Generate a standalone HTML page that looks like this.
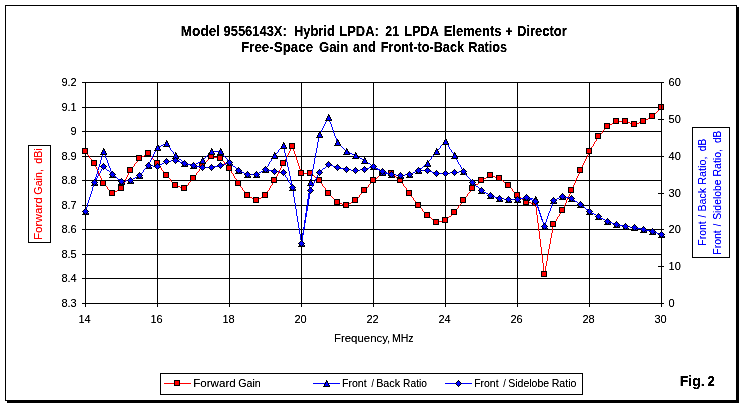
<!DOCTYPE html>
<html lang="en">
<head>
<meta charset="utf-8">
<title>Model 9556143X: Hybrid LPDA - Free-Space Gain and Front-to-Back Ratios</title>
<style>
html,body{margin:0;padding:0;background:#fff;}
body{width:744px;height:407px;overflow:hidden;}
svg{display:block;font-family:"Liberation Sans",Arial,sans-serif;}
text{white-space:pre;}
.t{font-size:14px;font-weight:bold;fill:#000;}
.s{font-size:11px;fill:#000;}
</style>
</head>
<body>
<svg width="744" height="407" viewBox="0 0 744 407">
<filter id="th" x="0" y="0" width="744" height="407" filterUnits="userSpaceOnUse" color-interpolation-filters="sRGB"><feComponentTransfer><feFuncA type="linear" slope="1.35" intercept="-0.06"/></feComponentTransfer></filter>
<filter id="tb" x="0" y="0" width="744" height="407" filterUnits="userSpaceOnUse" color-interpolation-filters="sRGB"><feComponentTransfer><feFuncA type="linear" slope="2.2" intercept="-0.4"/></feComponentTransfer></filter>
<rect x="0" y="0" width="744" height="407" fill="#fff"/>
<g shape-rendering="crispEdges">
<rect x="7" y="7" width="732" height="396" fill="#000"/>
<rect x="5" y="5" width="732" height="396" fill="#000"/>
<rect x="6" y="6" width="730" height="394" fill="#fff"/>
<path d="M82 82h580v1h-580zM82 107h580v1h-580zM82 131h580v1h-580zM82 156h580v1h-580zM82 180h580v1h-580zM82 205h580v1h-580zM82 229h580v1h-580zM82 254h580v1h-580zM82 278h580v1h-580zM82 303h580v1h-580zM85 82h1v225h-1zM157 82h1v225h-1zM229 82h1v225h-1zM301 82h1v225h-1zM373 82h1v225h-1zM445 82h1v225h-1zM517 82h1v225h-1zM589 82h1v225h-1zM661 82h1v225h-1z" fill="#000"/>
</g>
<g shape-rendering="crispEdges">
<path d="M650 117h2v1h-2zM648 118h2v1h-2zM646 119h2v1h-2zM644 120h2v1h-2zM616 121h11v1h-11zM642 121h2v1h-2zM614 122h2v1h-2zM627 122h3v1h-3zM639 122h3v1h-3zM612 123h2v1h-2zM630 123h3v1h-3zM636 123h3v1h-3zM610 124h2v1h-2zM633 124h3v1h-3zM608 125h2v1h-2zM291 147h2v1h-2zM146 154h2v1h-2zM144 155h2v1h-2zM142 156h2v1h-2zM211 156h3v1h-3zM140 157h2v1h-2zM214 157h4v1h-4zM218 158h3v1h-3zM301 173h10v1h-10zM382 173h10v1h-10zM312 175h2v1h-2zM379 175h2v1h-2zM393 175h2v1h-2zM490 175h2v1h-2zM488 176h2v1h-2zM492 176h3v1h-3zM486 177h2v1h-2zM495 177h3v1h-3zM316 178h2v1h-2zM375 178h2v1h-2zM397 178h2v1h-2zM484 178h2v1h-2zM498 178h2v1h-2zM482 179h2v1h-2zM501 180h2v1h-2zM505 183h2v1h-2zM476 184h2v1h-2zM175 185h2v1h-2zM177 186h3v1h-3zM180 187h3v1h-3zM183 188h2v1h-2zM119 189h2v1h-2zM117 190h2v1h-2zM115 191h2v1h-2zM113 192h2v1h-2zM248 196h2v1h-2zM263 196h2v1h-2zM250 197h2v1h-2zM261 197h2v1h-2zM519 197h2v1h-2zM252 198h2v1h-2zM259 198h2v1h-2zM254 199h2v1h-2zM257 199h2v1h-2zM523 200h2v1h-2zM353 201h2v1h-2zM337 202h2v1h-2zM351 202h2v1h-2zM526 202h5v1h-5zM339 203h3v1h-3zM349 203h2v1h-2zM531 203h5v1h-5zM342 204h3v1h-3zM347 204h2v1h-2zM345 205h2v1h-2zM449 216h2v1h-2zM429 217h2v1h-2zM433 220h2v1h-2zM443 220h3v1h-3zM439 221h4v1h-4zM436 222h3v1h-3zM544 271h2v1h-2zM85 151h1v1h-1zM86 152h1v2h-1zM87 154h1v1h-1zM88 155h1v1h-1zM89 156h1v2h-1zM90 158h1v1h-1zM91 159h1v1h-1zM92 160h1v2h-1zM93 162h1v1h-1zM94 163h1v2h-1zM95 165h1v2h-1zM96 167h1v2h-1zM97 169h1v2h-1zM98 171h1v3h-1zM99 174h1v2h-1zM100 176h1v2h-1zM101 178h1v2h-1zM102 180h1v2h-1zM103 182h1v2h-1zM104 184h1v1h-1zM105 185h1v1h-1zM106 186h1v1h-1zM107 187h1v2h-1zM108 189h1v1h-1zM109 190h1v1h-1zM110 191h1v1h-1zM111 192h1v1h-1zM112 193h1v1h-1zM121 187h1v2h-1zM122 185h1v2h-1zM123 183h1v2h-1zM124 181h1v2h-1zM125 179h1v2h-1zM126 177h1v2h-1zM127 175h1v2h-1zM128 173h1v2h-1zM129 171h1v2h-1zM130 170h1v1h-1zM131 168h1v2h-1zM132 167h1v1h-1zM133 166h1v1h-1zM134 164h1v2h-1zM135 163h1v1h-1zM136 162h1v1h-1zM137 160h1v2h-1zM138 159h1v1h-1zM139 158h1v1h-1zM148 153h1v1h-1zM149 154h1v1h-1zM150 155h1v1h-1zM151 156h1v1h-1zM152 157h1v2h-1zM153 159h1v1h-1zM154 160h1v1h-1zM155 161h1v1h-1zM156 162h1v1h-1zM157 163h1v1h-1zM158 164h1v2h-1zM159 166h1v1h-1zM160 167h1v1h-1zM161 168h1v2h-1zM162 170h1v1h-1zM163 171h1v1h-1zM164 172h1v2h-1zM165 174h1v1h-1zM166 175h1v1h-1zM167 176h1v1h-1zM168 177h1v1h-1zM169 178h1v1h-1zM170 179h1v2h-1zM171 181h1v1h-1zM172 182h1v1h-1zM173 183h1v1h-1zM174 184h1v1h-1zM185 187h1v1h-1zM186 186h1v1h-1zM187 185h1v1h-1zM188 183h1v2h-1zM189 182h1v1h-1zM190 181h1v1h-1zM191 180h1v1h-1zM192 179h1v1h-1zM193 178h1v1h-1zM194 176h1v2h-1zM195 175h1v1h-1zM196 173h1v2h-1zM197 172h1v1h-1zM198 171h1v1h-1zM199 169h1v2h-1zM200 168h1v1h-1zM201 166h1v2h-1zM202 165h1v1h-1zM203 164h1v1h-1zM204 163h1v1h-1zM205 162h1v1h-1zM206 161h1v1h-1zM207 160h1v1h-1zM208 159h1v1h-1zM209 158h1v1h-1zM210 157h1v1h-1zM221 159h1v1h-1zM222 160h1v1h-1zM223 161h1v1h-1zM224 162h1v2h-1zM225 164h1v1h-1zM226 165h1v1h-1zM227 166h1v1h-1zM228 167h1v1h-1zM229 168h1v1h-1zM230 169h1v2h-1zM231 171h1v2h-1zM232 173h1v1h-1zM233 174h1v2h-1zM234 176h1v2h-1zM235 178h1v1h-1zM236 179h1v2h-1zM237 181h1v2h-1zM238 183h1v1h-1zM239 184h1v2h-1zM240 186h1v1h-1zM241 187h1v1h-1zM242 188h1v2h-1zM243 190h1v1h-1zM244 191h1v1h-1zM245 192h1v2h-1zM246 194h1v1h-1zM247 195h1v1h-1zM256 200h1v1h-1zM265 195h1v1h-1zM266 193h1v2h-1zM267 191h1v2h-1zM268 190h1v1h-1zM269 188h1v2h-1zM270 186h1v2h-1zM271 185h1v1h-1zM272 183h1v2h-1zM273 181h1v2h-1zM274 180h1v1h-1zM275 178h1v2h-1zM276 176h1v2h-1zM277 174h1v2h-1zM278 172h1v2h-1zM279 170h1v2h-1zM280 168h1v2h-1zM281 166h1v2h-1zM282 164h1v2h-1zM283 163h1v1h-1zM284 161h1v2h-1zM285 159h1v2h-1zM286 157h1v2h-1zM287 155h1v2h-1zM288 153h1v2h-1zM289 151h1v2h-1zM290 149h1v2h-1zM291 148h1v1h-1zM292 146h1v1h-1zM293 148h1v3h-1zM294 151h1v3h-1zM295 154h1v3h-1zM296 157h1v3h-1zM297 160h1v3h-1zM298 163h1v3h-1zM299 166h1v3h-1zM300 169h1v3h-1zM301 172h1v1h-1zM311 174h1v1h-1zM314 176h1v1h-1zM315 177h1v1h-1zM318 179h1v1h-1zM319 180h1v1h-1zM320 181h1v2h-1zM321 183h1v1h-1zM322 184h1v2h-1zM323 186h1v1h-1zM324 187h1v1h-1zM325 188h1v2h-1zM326 190h1v1h-1zM327 191h1v2h-1zM328 193h1v1h-1zM329 194h1v1h-1zM330 195h1v1h-1zM331 196h1v1h-1zM332 197h1v1h-1zM333 198h1v1h-1zM334 199h1v1h-1zM335 200h1v1h-1zM336 201h1v1h-1zM355 200h1v1h-1zM356 199h1v1h-1zM357 198h1v1h-1zM358 197h1v1h-1zM359 195h1v2h-1zM360 194h1v1h-1zM361 193h1v1h-1zM362 192h1v1h-1zM363 191h1v1h-1zM364 190h1v1h-1zM365 189h1v1h-1zM366 188h1v1h-1zM367 187h1v1h-1zM368 185h1v2h-1zM369 184h1v1h-1zM370 183h1v1h-1zM371 182h1v1h-1zM372 181h1v1h-1zM373 180h1v1h-1zM374 179h1v1h-1zM377 177h1v1h-1zM378 176h1v1h-1zM381 174h1v1h-1zM392 174h1v1h-1zM395 176h1v1h-1zM396 177h1v1h-1zM399 179h1v1h-1zM400 180h1v1h-1zM401 181h1v2h-1zM402 183h1v1h-1zM403 184h1v2h-1zM404 186h1v1h-1zM405 187h1v1h-1zM406 188h1v2h-1zM407 190h1v1h-1zM408 191h1v2h-1zM409 193h1v1h-1zM410 194h1v2h-1zM411 196h1v1h-1zM412 197h1v1h-1zM413 198h1v2h-1zM414 200h1v1h-1zM415 201h1v1h-1zM416 202h1v2h-1zM417 204h1v1h-1zM418 205h1v1h-1zM419 206h1v1h-1zM420 207h1v1h-1zM421 208h1v1h-1zM422 209h1v2h-1zM423 211h1v1h-1zM424 212h1v1h-1zM425 213h1v1h-1zM426 214h1v1h-1zM427 215h1v1h-1zM428 216h1v1h-1zM431 218h1v1h-1zM432 219h1v1h-1zM435 221h1v1h-1zM446 219h1v1h-1zM447 218h1v1h-1zM448 217h1v1h-1zM451 215h1v1h-1zM452 214h1v1h-1zM453 213h1v1h-1zM454 212h1v1h-1zM455 210h1v2h-1zM456 209h1v1h-1zM457 208h1v1h-1zM458 206h1v2h-1zM459 205h1v1h-1zM460 204h1v1h-1zM461 202h1v2h-1zM462 201h1v1h-1zM463 200h1v1h-1zM464 198h1v2h-1zM465 197h1v1h-1zM466 196h1v1h-1zM467 194h1v2h-1zM468 193h1v1h-1zM469 192h1v1h-1zM470 190h1v2h-1zM471 189h1v1h-1zM472 188h1v1h-1zM473 187h1v1h-1zM474 186h1v1h-1zM475 185h1v1h-1zM478 183h1v1h-1zM479 182h1v1h-1zM480 181h1v1h-1zM481 180h1v1h-1zM500 179h1v1h-1zM503 181h1v1h-1zM504 182h1v1h-1zM507 184h1v1h-1zM508 185h1v1h-1zM509 186h1v1h-1zM510 187h1v1h-1zM511 188h1v1h-1zM512 189h1v2h-1zM513 191h1v1h-1zM514 192h1v1h-1zM515 193h1v1h-1zM516 194h1v1h-1zM517 195h1v1h-1zM518 196h1v1h-1zM521 198h1v1h-1zM522 199h1v1h-1zM525 201h1v1h-1zM535 204h1v3h-1zM536 207h1v8h-1zM537 215h1v8h-1zM538 223h1v8h-1zM539 231h1v8h-1zM540 239h1v8h-1zM541 247h1v8h-1zM542 255h1v8h-1zM543 263h1v8h-1zM544 272h1v3h-1zM545 266h1v5h-1zM546 261h1v5h-1zM547 255h1v6h-1zM548 249h1v6h-1zM549 244h1v5h-1zM550 238h1v6h-1zM551 233h1v5h-1zM552 227h1v6h-1zM553 224h1v3h-1zM554 222h1v2h-1zM555 221h1v1h-1zM556 219h1v2h-1zM557 217h1v2h-1zM558 216h1v1h-1zM559 214h1v2h-1zM560 213h1v1h-1zM561 211h1v2h-1zM562 209h1v2h-1zM563 207h1v2h-1zM564 205h1v2h-1zM565 203h1v2h-1zM566 200h1v3h-1zM567 198h1v2h-1zM568 196h1v2h-1zM569 194h1v2h-1zM570 192h1v2h-1zM571 189h1v3h-1zM572 187h1v2h-1zM573 185h1v2h-1zM574 183h1v2h-1zM575 180h1v3h-1zM576 178h1v2h-1zM577 176h1v2h-1zM578 174h1v2h-1zM579 172h1v2h-1zM580 169h1v3h-1zM581 167h1v2h-1zM582 165h1v2h-1zM583 163h1v2h-1zM584 161h1v2h-1zM585 159h1v2h-1zM586 157h1v2h-1zM587 155h1v2h-1zM588 153h1v2h-1zM589 151h1v2h-1zM590 149h1v2h-1zM591 147h1v2h-1zM592 146h1v1h-1zM593 144h1v2h-1zM594 142h1v2h-1zM595 141h1v1h-1zM596 139h1v2h-1zM597 137h1v2h-1zM598 136h1v1h-1zM599 135h1v1h-1zM600 134h1v1h-1zM601 133h1v1h-1zM602 131h1v2h-1zM603 130h1v1h-1zM604 129h1v1h-1zM605 128h1v1h-1zM606 127h1v1h-1zM607 126h1v1h-1zM652 116h1v1h-1zM653 115h1v1h-1zM654 114h1v1h-1zM655 113h1v1h-1zM656 112h1v1h-1zM657 111h1v1h-1zM658 110h1v1h-1zM659 109h1v1h-1zM660 108h1v1h-1zM661 107h1v1h-1z" fill="#f00"/>
<rect x="82" y="148" width="6" height="6" fill="#000"/><rect x="83" y="149" width="4" height="4" fill="#f00"/><rect x="91" y="160" width="6" height="6" fill="#000"/><rect x="92" y="161" width="4" height="4" fill="#f00"/><rect x="100" y="180" width="6" height="6" fill="#000"/><rect x="101" y="181" width="4" height="4" fill="#f00"/><rect x="109" y="190" width="6" height="6" fill="#000"/><rect x="110" y="191" width="4" height="4" fill="#f00"/><rect x="118" y="185" width="6" height="6" fill="#000"/><rect x="119" y="186" width="4" height="4" fill="#f00"/><rect x="127" y="167" width="6" height="6" fill="#000"/><rect x="128" y="168" width="4" height="4" fill="#f00"/><rect x="136" y="155" width="6" height="6" fill="#000"/><rect x="137" y="156" width="4" height="4" fill="#f00"/><rect x="145" y="150" width="6" height="6" fill="#000"/><rect x="146" y="151" width="4" height="4" fill="#f00"/><rect x="154" y="160" width="6" height="6" fill="#000"/><rect x="155" y="161" width="4" height="4" fill="#f00"/><rect x="163" y="172" width="6" height="6" fill="#000"/><rect x="164" y="173" width="4" height="4" fill="#f00"/><rect x="172" y="182" width="6" height="6" fill="#000"/><rect x="173" y="183" width="4" height="4" fill="#f00"/><rect x="181" y="185" width="6" height="6" fill="#000"/><rect x="182" y="186" width="4" height="4" fill="#f00"/><rect x="190" y="175" width="6" height="6" fill="#000"/><rect x="191" y="176" width="4" height="4" fill="#f00"/><rect x="199" y="162" width="6" height="6" fill="#000"/><rect x="200" y="163" width="4" height="4" fill="#f00"/><rect x="208" y="153" width="6" height="6" fill="#000"/><rect x="209" y="154" width="4" height="4" fill="#f00"/><rect x="217" y="155" width="6" height="6" fill="#000"/><rect x="218" y="156" width="4" height="4" fill="#f00"/><rect x="226" y="165" width="6" height="6" fill="#000"/><rect x="227" y="166" width="4" height="4" fill="#f00"/><rect x="235" y="180" width="6" height="6" fill="#000"/><rect x="236" y="181" width="4" height="4" fill="#f00"/><rect x="244" y="192" width="6" height="6" fill="#000"/><rect x="245" y="193" width="4" height="4" fill="#f00"/><rect x="253" y="197" width="6" height="6" fill="#000"/><rect x="254" y="198" width="4" height="4" fill="#f00"/><rect x="262" y="192" width="6" height="6" fill="#000"/><rect x="263" y="193" width="4" height="4" fill="#f00"/><rect x="271" y="177" width="6" height="6" fill="#000"/><rect x="272" y="178" width="4" height="4" fill="#f00"/><rect x="280" y="160" width="6" height="6" fill="#000"/><rect x="281" y="161" width="4" height="4" fill="#f00"/><rect x="289" y="143" width="6" height="6" fill="#000"/><rect x="290" y="144" width="4" height="4" fill="#f00"/><rect x="298" y="170" width="6" height="6" fill="#000"/><rect x="299" y="171" width="4" height="4" fill="#f00"/><rect x="307" y="170" width="6" height="6" fill="#000"/><rect x="308" y="171" width="4" height="4" fill="#f00"/><rect x="316" y="177" width="6" height="6" fill="#000"/><rect x="317" y="178" width="4" height="4" fill="#f00"/><rect x="325" y="190" width="6" height="6" fill="#000"/><rect x="326" y="191" width="4" height="4" fill="#f00"/><rect x="334" y="199" width="6" height="6" fill="#000"/><rect x="335" y="200" width="4" height="4" fill="#f00"/><rect x="343" y="202" width="6" height="6" fill="#000"/><rect x="344" y="203" width="4" height="4" fill="#f00"/><rect x="352" y="197" width="6" height="6" fill="#000"/><rect x="353" y="198" width="4" height="4" fill="#f00"/><rect x="361" y="187" width="6" height="6" fill="#000"/><rect x="362" y="188" width="4" height="4" fill="#f00"/><rect x="370" y="177" width="6" height="6" fill="#000"/><rect x="371" y="178" width="4" height="4" fill="#f00"/><rect x="379" y="170" width="6" height="6" fill="#000"/><rect x="380" y="171" width="4" height="4" fill="#f00"/><rect x="388" y="170" width="6" height="6" fill="#000"/><rect x="389" y="171" width="4" height="4" fill="#f00"/><rect x="397" y="177" width="6" height="6" fill="#000"/><rect x="398" y="178" width="4" height="4" fill="#f00"/><rect x="406" y="190" width="6" height="6" fill="#000"/><rect x="407" y="191" width="4" height="4" fill="#f00"/><rect x="415" y="202" width="6" height="6" fill="#000"/><rect x="416" y="203" width="4" height="4" fill="#f00"/><rect x="424" y="212" width="6" height="6" fill="#000"/><rect x="425" y="213" width="4" height="4" fill="#f00"/><rect x="433" y="219" width="6" height="6" fill="#000"/><rect x="434" y="220" width="4" height="4" fill="#f00"/><rect x="442" y="217" width="6" height="6" fill="#000"/><rect x="443" y="218" width="4" height="4" fill="#f00"/><rect x="451" y="209" width="6" height="6" fill="#000"/><rect x="452" y="210" width="4" height="4" fill="#f00"/><rect x="460" y="197" width="6" height="6" fill="#000"/><rect x="461" y="198" width="4" height="4" fill="#f00"/><rect x="469" y="185" width="6" height="6" fill="#000"/><rect x="470" y="186" width="4" height="4" fill="#f00"/><rect x="478" y="177" width="6" height="6" fill="#000"/><rect x="479" y="178" width="4" height="4" fill="#f00"/><rect x="487" y="172" width="6" height="6" fill="#000"/><rect x="488" y="173" width="4" height="4" fill="#f00"/><rect x="496" y="175" width="6" height="6" fill="#000"/><rect x="497" y="176" width="4" height="4" fill="#f00"/><rect x="505" y="182" width="6" height="6" fill="#000"/><rect x="506" y="183" width="4" height="4" fill="#f00"/><rect x="514" y="192" width="6" height="6" fill="#000"/><rect x="515" y="193" width="4" height="4" fill="#f00"/><rect x="523" y="199" width="6" height="6" fill="#000"/><rect x="524" y="200" width="4" height="4" fill="#f00"/><rect x="532" y="200" width="6" height="6" fill="#000"/><rect x="533" y="201" width="4" height="4" fill="#f00"/><rect x="541" y="271" width="6" height="6" fill="#000"/><rect x="542" y="272" width="4" height="4" fill="#f00"/><rect x="550" y="221" width="6" height="6" fill="#000"/><rect x="551" y="222" width="4" height="4" fill="#f00"/><rect x="559" y="207" width="6" height="6" fill="#000"/><rect x="560" y="208" width="4" height="4" fill="#f00"/><rect x="568" y="187" width="6" height="6" fill="#000"/><rect x="569" y="188" width="4" height="4" fill="#f00"/><rect x="577" y="167" width="6" height="6" fill="#000"/><rect x="578" y="168" width="4" height="4" fill="#f00"/><rect x="586" y="148" width="6" height="6" fill="#000"/><rect x="587" y="149" width="4" height="4" fill="#f00"/><rect x="595" y="133" width="6" height="6" fill="#000"/><rect x="596" y="134" width="4" height="4" fill="#f00"/><rect x="604" y="123" width="6" height="6" fill="#000"/><rect x="605" y="124" width="4" height="4" fill="#f00"/><rect x="613" y="118" width="6" height="6" fill="#000"/><rect x="614" y="119" width="4" height="4" fill="#f00"/><rect x="622" y="118" width="6" height="6" fill="#000"/><rect x="623" y="119" width="4" height="4" fill="#f00"/><rect x="631" y="121" width="6" height="6" fill="#000"/><rect x="632" y="122" width="4" height="4" fill="#f00"/><rect x="640" y="118" width="6" height="6" fill="#000"/><rect x="641" y="119" width="4" height="4" fill="#f00"/><rect x="649" y="113" width="6" height="6" fill="#000"/><rect x="650" y="114" width="4" height="4" fill="#f00"/><rect x="658" y="104" width="6" height="6" fill="#000"/><rect x="659" y="105" width="4" height="4" fill="#f00"/>
<path d="M661 82h1v222h-1zM658 82h6v1h-6zM658 119h6v1h-6zM658 156h6v1h-6zM658 193h6v1h-6zM658 229h6v1h-6zM658 266h6v1h-6zM658 303h6v1h-6z" fill="#000"/>
<path d="M327 118h2v1h-2zM165 143h2v1h-2zM163 144h2v1h-2zM161 145h2v1h-2zM159 146h2v1h-2zM282 146h2v1h-2zM157 147h2v1h-2zM211 151h10v1h-10zM346 151h2v1h-2zM348 152h2v1h-2zM350 153h2v1h-2zM352 154h2v1h-2zM354 155h2v1h-2zM356 156h2v1h-2zM358 157h2v1h-2zM360 158h2v1h-2zM179 159h2v1h-2zM362 159h2v1h-2zM200 161h2v1h-2zM365 161h2v1h-2zM198 162h2v1h-2zM184 163h3v1h-3zM196 163h2v1h-2zM368 163h2v1h-2zM187 164h4v1h-4zM194 164h2v1h-2zM191 165h3v1h-3zM371 165h2v1h-2zM424 165h2v1h-2zM233 166h2v1h-2zM374 167h2v1h-2zM420 168h2v1h-2zM377 169h2v1h-2zM238 170h2v1h-2zM263 170h2v1h-2zM417 170h2v1h-2zM240 171h2v1h-2zM261 171h2v1h-2zM380 171h2v1h-2zM415 171h2v1h-2zM242 172h2v1h-2zM259 172h2v1h-2zM382 172h3v1h-3zM413 172h2v1h-2zM244 173h2v1h-2zM257 173h2v1h-2zM385 173h4v1h-4zM411 173h2v1h-2zM246 174h11v1h-11zM389 174h7v1h-7zM405 174h6v1h-6zM396 175h9v1h-9zM114 176h2v1h-2zM137 176h2v1h-2zM135 177h2v1h-2zM133 178h2v1h-2zM118 179h2v1h-2zM131 179h2v1h-2zM126 180h5v1h-5zM121 181h5v1h-5zM476 186h2v1h-2zM482 191h2v1h-2zM484 192h2v1h-2zM486 193h2v1h-2zM488 194h2v1h-2zM490 195h2v1h-2zM492 196h3v1h-3zM561 196h4v1h-4zM495 197h3v1h-3zM524 197h5v1h-5zM559 197h2v1h-2zM565 197h4v1h-4zM498 198h6v1h-6zM520 198h4v1h-4zM529 198h4v1h-4zM557 198h2v1h-2zM569 198h3v1h-3zM504 199h16v1h-16zM533 199h3v1h-3zM555 199h2v1h-2zM572 199h2v1h-2zM553 200h2v1h-2zM575 201h2v1h-2zM578 203h2v1h-2zM582 206h2v1h-2zM586 209h2v1h-2zM590 212h2v1h-2zM592 213h2v1h-2zM594 214h2v1h-2zM596 215h2v1h-2zM599 217h2v1h-2zM601 218h2v1h-2zM603 219h2v1h-2zM605 220h2v1h-2zM607 221h2v1h-2zM609 222h3v1h-3zM612 223h3v1h-3zM615 224h4v1h-4zM619 225h4v1h-4zM623 226h7v1h-7zM630 227h7v1h-7zM637 228h4v1h-4zM641 229h5v1h-5zM646 230h4v1h-4zM650 231h4v1h-4zM654 232h3v1h-3zM657 233h3v1h-3zM660 234h2v1h-2zM85 210h1v2h-1zM86 207h1v3h-1zM87 203h1v4h-1zM88 200h1v3h-1zM89 197h1v3h-1zM90 194h1v3h-1zM91 191h1v3h-1zM92 187h1v4h-1zM93 184h1v3h-1zM94 181h1v3h-1zM95 177h1v4h-1zM96 174h1v3h-1zM97 170h1v4h-1zM98 167h1v3h-1zM99 164h1v3h-1zM100 160h1v4h-1zM101 157h1v3h-1zM102 153h1v4h-1zM103 151h1v2h-1zM104 153h1v2h-1zM105 155h1v3h-1zM106 158h1v2h-1zM107 160h1v3h-1zM108 163h1v3h-1zM109 166h1v2h-1zM110 168h1v3h-1zM111 171h1v2h-1zM112 173h1v2h-1zM113 175h1v1h-1zM116 177h1v1h-1zM117 178h1v1h-1zM120 180h1v1h-1zM139 175h1v1h-1zM140 174h1v1h-1zM141 173h1v1h-1zM142 172h1v1h-1zM143 170h1v2h-1zM144 169h1v1h-1zM145 168h1v1h-1zM146 167h1v1h-1zM147 166h1v1h-1zM148 164h1v2h-1zM149 162h1v2h-1zM150 160h1v2h-1zM151 158h1v2h-1zM152 156h1v2h-1zM153 154h1v2h-1zM154 152h1v2h-1zM155 150h1v2h-1zM156 148h1v2h-1zM167 144h1v2h-1zM168 146h1v1h-1zM169 147h1v1h-1zM170 148h1v2h-1zM171 150h1v1h-1zM172 151h1v1h-1zM173 152h1v2h-1zM174 154h1v1h-1zM175 155h1v1h-1zM176 156h1v1h-1zM177 157h1v1h-1zM178 158h1v1h-1zM181 160h1v1h-1zM182 161h1v1h-1zM183 162h1v1h-1zM202 160h1v1h-1zM203 159h1v1h-1zM204 158h1v1h-1zM205 157h1v1h-1zM206 156h1v1h-1zM207 155h1v1h-1zM208 154h1v1h-1zM209 153h1v1h-1zM210 152h1v1h-1zM221 152h1v1h-1zM222 153h1v2h-1zM223 155h1v1h-1zM224 156h1v1h-1zM225 157h1v1h-1zM226 158h1v1h-1zM227 159h1v2h-1zM228 161h1v1h-1zM229 162h1v1h-1zM230 163h1v1h-1zM231 164h1v1h-1zM232 165h1v1h-1zM235 167h1v1h-1zM236 168h1v1h-1zM237 169h1v1h-1zM265 169h1v1h-1zM266 167h1v2h-1zM267 166h1v1h-1zM268 164h1v2h-1zM269 162h1v2h-1zM270 161h1v1h-1zM271 159h1v2h-1zM272 158h1v1h-1zM273 156h1v2h-1zM274 155h1v1h-1zM275 154h1v1h-1zM276 153h1v1h-1zM277 152h1v1h-1zM278 150h1v2h-1zM279 149h1v1h-1zM280 148h1v1h-1zM281 147h1v1h-1zM283 145h1v1h-1zM283 147h1v1h-1zM284 148h1v5h-1zM285 153h1v4h-1zM286 157h1v5h-1zM287 162h1v5h-1zM288 167h1v4h-1zM289 171h1v5h-1zM290 176h1v5h-1zM291 181h1v4h-1zM292 185h1v6h-1zM293 191h1v6h-1zM294 197h1v6h-1zM295 203h1v6h-1zM296 209h1v7h-1zM297 216h1v6h-1zM298 222h1v6h-1zM299 228h1v6h-1zM300 234h1v6h-1zM301 240h1v4h-1zM302 233h1v7h-1zM303 227h1v6h-1zM304 220h1v7h-1zM305 213h1v7h-1zM306 206h1v7h-1zM307 199h1v7h-1zM308 193h1v6h-1zM309 186h1v7h-1zM310 180h1v6h-1zM311 174h1v6h-1zM312 169h1v5h-1zM313 164h1v5h-1zM314 158h1v6h-1zM315 153h1v5h-1zM316 148h1v5h-1zM317 142h1v6h-1zM318 137h1v5h-1zM319 134h1v3h-1zM320 132h1v2h-1zM321 130h1v2h-1zM322 128h1v2h-1zM323 126h1v2h-1zM324 124h1v2h-1zM325 122h1v2h-1zM326 120h1v2h-1zM327 119h1v1h-1zM328 117h1v1h-1zM329 119h1v3h-1zM330 122h1v2h-1zM331 124h1v3h-1zM332 127h1v3h-1zM333 130h1v3h-1zM334 133h1v3h-1zM335 136h1v2h-1zM336 138h1v3h-1zM337 141h1v2h-1zM338 143h1v1h-1zM339 144h1v1h-1zM340 145h1v1h-1zM341 146h1v1h-1zM342 147h1v1h-1zM343 148h1v1h-1zM344 149h1v1h-1zM345 150h1v1h-1zM364 160h1v1h-1zM367 162h1v1h-1zM370 164h1v1h-1zM373 166h1v1h-1zM376 168h1v1h-1zM379 170h1v1h-1zM419 169h1v1h-1zM422 167h1v1h-1zM423 166h1v1h-1zM426 164h1v1h-1zM427 163h1v1h-1zM428 161h1v2h-1zM429 160h1v1h-1zM430 159h1v1h-1zM431 157h1v2h-1zM432 156h1v1h-1zM433 155h1v1h-1zM434 153h1v2h-1zM435 152h1v1h-1zM436 151h1v1h-1zM437 150h1v1h-1zM438 149h1v1h-1zM439 148h1v1h-1zM440 146h1v2h-1zM441 145h1v1h-1zM442 144h1v1h-1zM443 143h1v1h-1zM444 142h1v1h-1zM445 141h1v1h-1zM446 142h1v2h-1zM447 144h1v1h-1zM448 145h1v2h-1zM449 147h1v2h-1zM450 149h1v1h-1zM451 150h1v2h-1zM452 152h1v1h-1zM453 153h1v2h-1zM454 155h1v1h-1zM455 156h1v2h-1zM456 158h1v2h-1zM457 160h1v2h-1zM458 162h1v2h-1zM459 164h1v1h-1zM460 165h1v2h-1zM461 167h1v2h-1zM462 169h1v2h-1zM463 171h1v1h-1zM464 172h1v1h-1zM465 173h1v2h-1zM466 175h1v1h-1zM467 176h1v1h-1zM468 177h1v1h-1zM469 178h1v1h-1zM470 179h1v2h-1zM471 181h1v1h-1zM472 182h1v1h-1zM473 183h1v1h-1zM474 184h1v1h-1zM475 185h1v1h-1zM478 187h1v1h-1zM479 188h1v1h-1zM480 189h1v1h-1zM481 190h1v1h-1zM535 200h1v1h-1zM536 201h1v3h-1zM537 204h1v3h-1zM538 207h1v3h-1zM539 210h1v3h-1zM540 213h1v3h-1zM541 216h1v3h-1zM542 219h1v3h-1zM543 222h1v3h-1zM544 225h1v2h-1zM545 222h1v3h-1zM546 219h1v3h-1zM547 216h1v3h-1zM548 213h1v3h-1zM549 211h1v2h-1zM550 208h1v3h-1zM551 205h1v3h-1zM552 202h1v3h-1zM553 201h1v1h-1zM574 200h1v1h-1zM577 202h1v1h-1zM580 204h1v1h-1zM581 205h1v1h-1zM584 207h1v1h-1zM585 208h1v1h-1zM588 210h1v1h-1zM589 211h1v1h-1zM598 216h1v1h-1z" fill="#00f"/>
<path d="M85 208h1v1h-1zM85 209h2v1h-2zM84 210h3v1h-3zM84 211h4v1h-4zM83 212h5v1h-5zM83 213h6v1h-6zM82 214h7v1h-7zM94 179h1v1h-1zM94 180h2v1h-2zM93 181h3v1h-3zM93 182h4v1h-4zM92 183h5v1h-5zM92 184h6v1h-6zM91 185h7v1h-7zM103 148h1v1h-1zM103 149h2v1h-2zM102 150h3v1h-3zM102 151h4v1h-4zM101 152h5v1h-5zM101 153h6v1h-6zM100 154h7v1h-7zM112 171h1v1h-1zM112 172h2v1h-2zM111 173h3v1h-3zM111 174h4v1h-4zM110 175h5v1h-5zM110 176h6v1h-6zM109 177h7v1h-7zM121 178h1v1h-1zM121 179h2v1h-2zM120 180h3v1h-3zM120 181h4v1h-4zM119 182h5v1h-5zM119 183h6v1h-6zM118 184h7v1h-7zM130 177h1v1h-1zM130 178h2v1h-2zM129 179h3v1h-3zM129 180h4v1h-4zM128 181h5v1h-5zM128 182h6v1h-6zM127 183h7v1h-7zM139 172h1v1h-1zM139 173h2v1h-2zM138 174h3v1h-3zM138 175h4v1h-4zM137 176h5v1h-5zM137 177h6v1h-6zM136 178h7v1h-7zM148 162h1v1h-1zM148 163h2v1h-2zM147 164h3v1h-3zM147 165h4v1h-4zM146 166h5v1h-5zM146 167h6v1h-6zM145 168h7v1h-7zM157 144h1v1h-1zM157 145h2v1h-2zM156 146h3v1h-3zM156 147h4v1h-4zM155 148h5v1h-5zM155 149h6v1h-6zM154 150h7v1h-7zM166 140h1v1h-1zM166 141h2v1h-2zM165 142h3v1h-3zM165 143h4v1h-4zM164 144h5v1h-5zM164 145h6v1h-6zM163 146h7v1h-7zM175 152h1v1h-1zM175 153h2v1h-2zM174 154h3v1h-3zM174 155h4v1h-4zM173 156h5v1h-5zM173 157h6v1h-6zM172 158h7v1h-7zM184 160h1v1h-1zM184 161h2v1h-2zM183 162h3v1h-3zM183 163h4v1h-4zM182 164h5v1h-5zM182 165h6v1h-6zM181 166h7v1h-7zM193 162h1v1h-1zM193 163h2v1h-2zM192 164h3v1h-3zM192 165h4v1h-4zM191 166h5v1h-5zM191 167h6v1h-6zM190 168h7v1h-7zM202 157h1v1h-1zM202 158h2v1h-2zM201 159h3v1h-3zM201 160h4v1h-4zM200 161h5v1h-5zM200 162h6v1h-6zM199 163h7v1h-7zM211 148h1v1h-1zM211 149h2v1h-2zM210 150h3v1h-3zM210 151h4v1h-4zM209 152h5v1h-5zM209 153h6v1h-6zM208 154h7v1h-7zM220 148h1v1h-1zM220 149h2v1h-2zM219 150h3v1h-3zM219 151h4v1h-4zM218 152h5v1h-5zM218 153h6v1h-6zM217 154h7v1h-7zM229 159h1v1h-1zM229 160h2v1h-2zM228 161h3v1h-3zM228 162h4v1h-4zM227 163h5v1h-5zM227 164h6v1h-6zM226 165h7v1h-7zM238 167h1v1h-1zM238 168h2v1h-2zM237 169h3v1h-3zM237 170h4v1h-4zM236 171h5v1h-5zM236 172h6v1h-6zM235 173h7v1h-7zM247 171h1v1h-1zM247 172h2v1h-2zM246 173h3v1h-3zM246 174h4v1h-4zM245 175h5v1h-5zM245 176h6v1h-6zM244 177h7v1h-7zM256 171h1v1h-1zM256 172h2v1h-2zM255 173h3v1h-3zM255 174h4v1h-4zM254 175h5v1h-5zM254 176h6v1h-6zM253 177h7v1h-7zM265 166h1v1h-1zM265 167h2v1h-2zM264 168h3v1h-3zM264 169h4v1h-4zM263 170h5v1h-5zM263 171h6v1h-6zM262 172h7v1h-7zM274 152h1v1h-1zM274 153h2v1h-2zM273 154h3v1h-3zM273 155h4v1h-4zM272 156h5v1h-5zM272 157h6v1h-6zM271 158h7v1h-7zM283 142h1v1h-1zM283 143h2v1h-2zM282 144h3v1h-3zM282 145h4v1h-4zM281 146h5v1h-5zM281 147h6v1h-6zM280 148h7v1h-7zM292 184h1v1h-1zM292 185h2v1h-2zM291 186h3v1h-3zM291 187h4v1h-4zM290 188h5v1h-5zM290 189h6v1h-6zM289 190h7v1h-7zM301 240h1v1h-1zM301 241h2v1h-2zM300 242h3v1h-3zM300 243h4v1h-4zM299 244h5v1h-5zM299 245h6v1h-6zM298 246h7v1h-7zM310 179h1v1h-1zM310 180h2v1h-2zM309 181h3v1h-3zM309 182h4v1h-4zM308 183h5v1h-5zM308 184h6v1h-6zM307 185h7v1h-7zM319 131h1v1h-1zM319 132h2v1h-2zM318 133h3v1h-3zM318 134h4v1h-4zM317 135h5v1h-5zM317 136h6v1h-6zM316 137h7v1h-7zM328 114h1v1h-1zM328 115h2v1h-2zM327 116h3v1h-3zM327 117h4v1h-4zM326 118h5v1h-5zM326 119h6v1h-6zM325 120h7v1h-7zM337 139h1v1h-1zM337 140h2v1h-2zM336 141h3v1h-3zM336 142h4v1h-4zM335 143h5v1h-5zM335 144h6v1h-6zM334 145h7v1h-7zM346 148h1v1h-1zM346 149h2v1h-2zM345 150h3v1h-3zM345 151h4v1h-4zM344 152h5v1h-5zM344 153h6v1h-6zM343 154h7v1h-7zM355 152h1v1h-1zM355 153h2v1h-2zM354 154h3v1h-3zM354 155h4v1h-4zM353 156h5v1h-5zM353 157h6v1h-6zM352 158h7v1h-7zM364 157h1v1h-1zM364 158h2v1h-2zM363 159h3v1h-3zM363 160h4v1h-4zM362 161h5v1h-5zM362 162h6v1h-6zM361 163h7v1h-7zM373 163h1v1h-1zM373 164h2v1h-2zM372 165h3v1h-3zM372 166h4v1h-4zM371 167h5v1h-5zM371 168h6v1h-6zM370 169h7v1h-7zM382 169h1v1h-1zM382 170h2v1h-2zM381 171h3v1h-3zM381 172h4v1h-4zM380 173h5v1h-5zM380 174h6v1h-6zM379 175h7v1h-7zM391 171h1v1h-1zM391 172h2v1h-2zM390 173h3v1h-3zM390 174h4v1h-4zM389 175h5v1h-5zM389 176h6v1h-6zM388 177h7v1h-7zM400 172h1v1h-1zM400 173h2v1h-2zM399 174h3v1h-3zM399 175h4v1h-4zM398 176h5v1h-5zM398 177h6v1h-6zM397 178h7v1h-7zM409 171h1v1h-1zM409 172h2v1h-2zM408 173h3v1h-3zM408 174h4v1h-4zM407 175h5v1h-5zM407 176h6v1h-6zM406 177h7v1h-7zM418 167h1v1h-1zM418 168h2v1h-2zM417 169h3v1h-3zM417 170h4v1h-4zM416 171h5v1h-5zM416 172h6v1h-6zM415 173h7v1h-7zM427 160h1v1h-1zM427 161h2v1h-2zM426 162h3v1h-3zM426 163h4v1h-4zM425 164h5v1h-5zM425 165h6v1h-6zM424 166h7v1h-7zM436 148h1v1h-1zM436 149h2v1h-2zM435 150h3v1h-3zM435 151h4v1h-4zM434 152h5v1h-5zM434 153h6v1h-6zM433 154h7v1h-7zM445 138h1v1h-1zM445 139h2v1h-2zM444 140h3v1h-3zM444 141h4v1h-4zM443 142h5v1h-5zM443 143h6v1h-6zM442 144h7v1h-7zM454 152h1v1h-1zM454 153h2v1h-2zM453 154h3v1h-3zM453 155h4v1h-4zM452 156h5v1h-5zM452 157h6v1h-6zM451 158h7v1h-7zM463 168h1v1h-1zM463 169h2v1h-2zM462 170h3v1h-3zM462 171h4v1h-4zM461 172h5v1h-5zM461 173h6v1h-6zM460 174h7v1h-7zM472 179h1v1h-1zM472 180h2v1h-2zM471 181h3v1h-3zM471 182h4v1h-4zM470 183h5v1h-5zM470 184h6v1h-6zM469 185h7v1h-7zM481 187h1v1h-1zM481 188h2v1h-2zM480 189h3v1h-3zM480 190h4v1h-4zM479 191h5v1h-5zM479 192h6v1h-6zM478 193h7v1h-7zM490 192h1v1h-1zM490 193h2v1h-2zM489 194h3v1h-3zM489 195h4v1h-4zM488 196h5v1h-5zM488 197h6v1h-6zM487 198h7v1h-7zM499 195h1v1h-1zM499 196h2v1h-2zM498 197h3v1h-3zM498 198h4v1h-4zM497 199h5v1h-5zM497 200h6v1h-6zM496 201h7v1h-7zM508 196h1v1h-1zM508 197h2v1h-2zM507 198h3v1h-3zM507 199h4v1h-4zM506 200h5v1h-5zM506 201h6v1h-6zM505 202h7v1h-7zM517 196h1v1h-1zM517 197h2v1h-2zM516 198h3v1h-3zM516 199h4v1h-4zM515 200h5v1h-5zM515 201h6v1h-6zM514 202h7v1h-7zM526 194h1v1h-1zM526 195h2v1h-2zM525 196h3v1h-3zM525 197h4v1h-4zM524 198h5v1h-5zM524 199h6v1h-6zM523 200h7v1h-7zM535 196h1v1h-1zM535 197h2v1h-2zM534 198h3v1h-3zM534 199h4v1h-4zM533 200h5v1h-5zM533 201h6v1h-6zM532 202h7v1h-7zM544 223h1v1h-1zM544 224h2v1h-2zM543 225h3v1h-3zM543 226h4v1h-4zM542 227h5v1h-5zM542 228h6v1h-6zM541 229h7v1h-7zM553 197h1v1h-1zM553 198h2v1h-2zM552 199h3v1h-3zM552 200h4v1h-4zM551 201h5v1h-5zM551 202h6v1h-6zM550 203h7v1h-7zM562 193h1v1h-1zM562 194h2v1h-2zM561 195h3v1h-3zM561 196h4v1h-4zM560 197h5v1h-5zM560 198h6v1h-6zM559 199h7v1h-7zM571 195h1v1h-1zM571 196h2v1h-2zM570 197h3v1h-3zM570 198h4v1h-4zM569 199h5v1h-5zM569 200h6v1h-6zM568 201h7v1h-7zM580 201h1v1h-1zM580 202h2v1h-2zM579 203h3v1h-3zM579 204h4v1h-4zM578 205h5v1h-5zM578 206h6v1h-6zM577 207h7v1h-7zM589 208h1v1h-1zM589 209h2v1h-2zM588 210h3v1h-3zM588 211h4v1h-4zM587 212h5v1h-5zM587 213h6v1h-6zM586 214h7v1h-7zM598 213h1v1h-1zM598 214h2v1h-2zM597 215h3v1h-3zM597 216h4v1h-4zM596 217h5v1h-5zM596 218h6v1h-6zM595 219h7v1h-7zM607 218h1v1h-1zM607 219h2v1h-2zM606 220h3v1h-3zM606 221h4v1h-4zM605 222h5v1h-5zM605 223h6v1h-6zM604 224h7v1h-7zM616 221h1v1h-1zM616 222h2v1h-2zM615 223h3v1h-3zM615 224h4v1h-4zM614 225h5v1h-5zM614 226h6v1h-6zM613 227h7v1h-7zM625 223h1v1h-1zM625 224h2v1h-2zM624 225h3v1h-3zM624 226h4v1h-4zM623 227h5v1h-5zM623 228h6v1h-6zM622 229h7v1h-7zM634 224h1v1h-1zM634 225h2v1h-2zM633 226h3v1h-3zM633 227h4v1h-4zM632 228h5v1h-5zM632 229h6v1h-6zM631 230h7v1h-7zM643 226h1v1h-1zM643 227h2v1h-2zM642 228h3v1h-3zM642 229h4v1h-4zM641 230h5v1h-5zM641 231h6v1h-6zM640 232h7v1h-7zM652 228h1v1h-1zM652 229h2v1h-2zM651 230h3v1h-3zM651 231h4v1h-4zM650 232h5v1h-5zM650 233h6v1h-6zM649 234h7v1h-7zM661 231h1v1h-1zM661 232h2v1h-2zM660 233h3v1h-3zM660 234h4v1h-4zM659 235h5v1h-5zM659 236h6v1h-6zM658 237h7v1h-7z" fill="#000"/><path d="M85 210h1v1h-1zM85 211h2v1h-2zM84 212h3v1h-3zM84 213h4v1h-4zM94 181h1v1h-1zM94 182h2v1h-2zM93 183h3v1h-3zM93 184h4v1h-4zM103 150h1v1h-1zM103 151h2v1h-2zM102 152h3v1h-3zM102 153h4v1h-4zM112 173h1v1h-1zM112 174h2v1h-2zM111 175h3v1h-3zM111 176h4v1h-4zM121 180h1v1h-1zM121 181h2v1h-2zM120 182h3v1h-3zM120 183h4v1h-4zM130 179h1v1h-1zM130 180h2v1h-2zM129 181h3v1h-3zM129 182h4v1h-4zM139 174h1v1h-1zM139 175h2v1h-2zM138 176h3v1h-3zM138 177h4v1h-4zM148 164h1v1h-1zM148 165h2v1h-2zM147 166h3v1h-3zM147 167h4v1h-4zM157 146h1v1h-1zM157 147h2v1h-2zM156 148h3v1h-3zM156 149h4v1h-4zM166 142h1v1h-1zM166 143h2v1h-2zM165 144h3v1h-3zM165 145h4v1h-4zM175 154h1v1h-1zM175 155h2v1h-2zM174 156h3v1h-3zM174 157h4v1h-4zM184 162h1v1h-1zM184 163h2v1h-2zM183 164h3v1h-3zM183 165h4v1h-4zM193 164h1v1h-1zM193 165h2v1h-2zM192 166h3v1h-3zM192 167h4v1h-4zM202 159h1v1h-1zM202 160h2v1h-2zM201 161h3v1h-3zM201 162h4v1h-4zM211 150h1v1h-1zM211 151h2v1h-2zM210 152h3v1h-3zM210 153h4v1h-4zM220 150h1v1h-1zM220 151h2v1h-2zM219 152h3v1h-3zM219 153h4v1h-4zM229 161h1v1h-1zM229 162h2v1h-2zM228 163h3v1h-3zM228 164h4v1h-4zM238 169h1v1h-1zM238 170h2v1h-2zM237 171h3v1h-3zM237 172h4v1h-4zM247 173h1v1h-1zM247 174h2v1h-2zM246 175h3v1h-3zM246 176h4v1h-4zM256 173h1v1h-1zM256 174h2v1h-2zM255 175h3v1h-3zM255 176h4v1h-4zM265 168h1v1h-1zM265 169h2v1h-2zM264 170h3v1h-3zM264 171h4v1h-4zM274 154h1v1h-1zM274 155h2v1h-2zM273 156h3v1h-3zM273 157h4v1h-4zM283 144h1v1h-1zM283 145h2v1h-2zM282 146h3v1h-3zM282 147h4v1h-4zM292 186h1v1h-1zM292 187h2v1h-2zM291 188h3v1h-3zM291 189h4v1h-4zM301 242h1v1h-1zM301 243h2v1h-2zM300 244h3v1h-3zM300 245h4v1h-4zM310 181h1v1h-1zM310 182h2v1h-2zM309 183h3v1h-3zM309 184h4v1h-4zM319 133h1v1h-1zM319 134h2v1h-2zM318 135h3v1h-3zM318 136h4v1h-4zM328 116h1v1h-1zM328 117h2v1h-2zM327 118h3v1h-3zM327 119h4v1h-4zM337 141h1v1h-1zM337 142h2v1h-2zM336 143h3v1h-3zM336 144h4v1h-4zM346 150h1v1h-1zM346 151h2v1h-2zM345 152h3v1h-3zM345 153h4v1h-4zM355 154h1v1h-1zM355 155h2v1h-2zM354 156h3v1h-3zM354 157h4v1h-4zM364 159h1v1h-1zM364 160h2v1h-2zM363 161h3v1h-3zM363 162h4v1h-4zM373 165h1v1h-1zM373 166h2v1h-2zM372 167h3v1h-3zM372 168h4v1h-4zM382 171h1v1h-1zM382 172h2v1h-2zM381 173h3v1h-3zM381 174h4v1h-4zM391 173h1v1h-1zM391 174h2v1h-2zM390 175h3v1h-3zM390 176h4v1h-4zM400 174h1v1h-1zM400 175h2v1h-2zM399 176h3v1h-3zM399 177h4v1h-4zM409 173h1v1h-1zM409 174h2v1h-2zM408 175h3v1h-3zM408 176h4v1h-4zM418 169h1v1h-1zM418 170h2v1h-2zM417 171h3v1h-3zM417 172h4v1h-4zM427 162h1v1h-1zM427 163h2v1h-2zM426 164h3v1h-3zM426 165h4v1h-4zM436 150h1v1h-1zM436 151h2v1h-2zM435 152h3v1h-3zM435 153h4v1h-4zM445 140h1v1h-1zM445 141h2v1h-2zM444 142h3v1h-3zM444 143h4v1h-4zM454 154h1v1h-1zM454 155h2v1h-2zM453 156h3v1h-3zM453 157h4v1h-4zM463 170h1v1h-1zM463 171h2v1h-2zM462 172h3v1h-3zM462 173h4v1h-4zM472 181h1v1h-1zM472 182h2v1h-2zM471 183h3v1h-3zM471 184h4v1h-4zM481 189h1v1h-1zM481 190h2v1h-2zM480 191h3v1h-3zM480 192h4v1h-4zM490 194h1v1h-1zM490 195h2v1h-2zM489 196h3v1h-3zM489 197h4v1h-4zM499 197h1v1h-1zM499 198h2v1h-2zM498 199h3v1h-3zM498 200h4v1h-4zM508 198h1v1h-1zM508 199h2v1h-2zM507 200h3v1h-3zM507 201h4v1h-4zM517 198h1v1h-1zM517 199h2v1h-2zM516 200h3v1h-3zM516 201h4v1h-4zM526 196h1v1h-1zM526 197h2v1h-2zM525 198h3v1h-3zM525 199h4v1h-4zM535 198h1v1h-1zM535 199h2v1h-2zM534 200h3v1h-3zM534 201h4v1h-4zM544 225h1v1h-1zM544 226h2v1h-2zM543 227h3v1h-3zM543 228h4v1h-4zM553 199h1v1h-1zM553 200h2v1h-2zM552 201h3v1h-3zM552 202h4v1h-4zM562 195h1v1h-1zM562 196h2v1h-2zM561 197h3v1h-3zM561 198h4v1h-4zM571 197h1v1h-1zM571 198h2v1h-2zM570 199h3v1h-3zM570 200h4v1h-4zM580 203h1v1h-1zM580 204h2v1h-2zM579 205h3v1h-3zM579 206h4v1h-4zM589 210h1v1h-1zM589 211h2v1h-2zM588 212h3v1h-3zM588 213h4v1h-4zM598 215h1v1h-1zM598 216h2v1h-2zM597 217h3v1h-3zM597 218h4v1h-4zM607 220h1v1h-1zM607 221h2v1h-2zM606 222h3v1h-3zM606 223h4v1h-4zM616 223h1v1h-1zM616 224h2v1h-2zM615 225h3v1h-3zM615 226h4v1h-4zM625 225h1v1h-1zM625 226h2v1h-2zM624 227h3v1h-3zM624 228h4v1h-4zM634 226h1v1h-1zM634 227h2v1h-2zM633 228h3v1h-3zM633 229h4v1h-4zM643 228h1v1h-1zM643 229h2v1h-2zM642 230h3v1h-3zM642 231h4v1h-4zM652 230h1v1h-1zM652 231h2v1h-2zM651 232h3v1h-3zM651 233h4v1h-4zM661 233h1v1h-1zM661 234h2v1h-2zM660 235h3v1h-3zM660 236h4v1h-4z" fill="#00f"/>
<path d="M171 160h6v1h-6zM166 161h5v1h-5zM177 161h3v1h-3zM164 162h2v1h-2zM180 162h3v1h-3zM228 162h2v1h-2zM162 163h2v1h-2zM183 163h4v1h-4zM225 163h3v1h-3zM160 164h2v1h-2zM187 164h4v1h-4zM222 164h3v1h-3zM328 164h2v1h-2zM148 165h5v1h-5zM158 165h2v1h-2zM191 165h5v1h-5zM218 165h4v1h-4zM330 165h3v1h-3zM153 166h5v1h-5zM196 166h4v1h-4zM214 166h4v1h-4zM233 166h2v1h-2zM333 166h3v1h-3zM372 166h2v1h-2zM200 167h14v1h-14zM336 167h4v1h-4zM369 167h3v1h-3zM374 167h2v1h-2zM323 168h2v1h-2zM340 168h4v1h-4zM366 168h3v1h-3zM376 168h2v1h-2zM265 169h3v1h-3zM344 169h7v1h-7zM360 169h6v1h-6zM378 169h2v1h-2zM107 170h2v1h-2zM238 170h2v1h-2zM263 170h2v1h-2zM268 170h4v1h-4zM351 170h9v1h-9zM380 170h2v1h-2zM417 170h12v1h-12zM240 171h2v1h-2zM261 171h2v1h-2zM272 171h7v1h-7zM382 171h2v1h-2zM415 171h2v1h-2zM429 171h3v1h-3zM459 171h5v1h-5zM242 172h2v1h-2zM259 172h2v1h-2zM279 172h5v1h-5zM384 172h3v1h-3zM413 172h2v1h-2zM432 172h3v1h-3zM450 172h9v1h-9zM244 173h2v1h-2zM257 173h2v1h-2zM387 173h3v1h-3zM411 173h2v1h-2zM435 173h15v1h-15zM246 174h11v1h-11zM390 174h6v1h-6zM405 174h6v1h-6zM396 175h9v1h-9zM114 176h2v1h-2zM137 176h2v1h-2zM135 177h2v1h-2zM133 178h2v1h-2zM118 179h2v1h-2zM131 179h2v1h-2zM126 180h5v1h-5zM121 181h5v1h-5zM476 186h2v1h-2zM482 191h2v1h-2zM484 192h2v1h-2zM486 193h2v1h-2zM488 194h2v1h-2zM490 195h2v1h-2zM492 196h3v1h-3zM561 196h4v1h-4zM495 197h3v1h-3zM524 197h4v1h-4zM559 197h2v1h-2zM565 197h4v1h-4zM498 198h6v1h-6zM520 198h4v1h-4zM528 198h2v1h-2zM557 198h2v1h-2zM569 198h3v1h-3zM504 199h16v1h-16zM530 199h2v1h-2zM555 199h2v1h-2zM572 199h2v1h-2zM532 200h2v1h-2zM553 200h2v1h-2zM534 201h2v1h-2zM575 201h2v1h-2zM578 203h2v1h-2zM582 206h2v1h-2zM586 209h2v1h-2zM590 212h2v1h-2zM592 213h2v1h-2zM594 214h2v1h-2zM596 215h2v1h-2zM599 217h2v1h-2zM601 218h2v1h-2zM603 219h2v1h-2zM605 220h2v1h-2zM607 221h2v1h-2zM609 222h3v1h-3zM612 223h3v1h-3zM615 224h4v1h-4zM619 225h4v1h-4zM623 226h7v1h-7zM630 227h7v1h-7zM637 228h4v1h-4zM641 229h5v1h-5zM646 230h4v1h-4zM650 231h4v1h-4zM654 232h3v1h-3zM657 233h3v1h-3zM660 234h2v1h-2zM301 240h2v1h-2zM85 210h1v2h-1zM86 207h1v3h-1zM87 203h1v4h-1zM88 200h1v3h-1zM89 197h1v3h-1zM90 194h1v3h-1zM91 191h1v3h-1zM92 187h1v4h-1zM93 184h1v3h-1zM94 182h1v2h-1zM95 180h1v2h-1zM96 178h1v2h-1zM97 176h1v2h-1zM98 174h1v2h-1zM99 173h1v1h-1zM100 171h1v2h-1zM101 169h1v2h-1zM102 167h1v2h-1zM103 166h1v1h-1zM104 167h1v1h-1zM105 168h1v1h-1zM106 169h1v1h-1zM109 171h1v1h-1zM110 172h1v1h-1zM111 173h1v1h-1zM112 174h1v1h-1zM113 175h1v1h-1zM116 177h1v1h-1zM117 178h1v1h-1zM120 180h1v1h-1zM139 175h1v1h-1zM140 174h1v1h-1zM141 173h1v1h-1zM142 172h1v1h-1zM143 170h1v2h-1zM144 169h1v1h-1zM145 168h1v1h-1zM146 167h1v1h-1zM147 166h1v1h-1zM230 163h1v1h-1zM231 164h1v1h-1zM232 165h1v1h-1zM235 167h1v1h-1zM236 168h1v1h-1zM237 169h1v1h-1zM284 173h1v2h-1zM285 175h1v2h-1zM286 177h1v1h-1zM287 178h1v2h-1zM288 180h1v2h-1zM289 182h1v1h-1zM290 183h1v2h-1zM291 185h1v2h-1zM292 187h1v4h-1zM293 191h1v6h-1zM294 197h1v6h-1zM295 203h1v6h-1zM296 209h1v7h-1zM297 216h1v6h-1zM298 222h1v6h-1zM299 228h1v6h-1zM300 234h1v6h-1zM301 241h1v3h-1zM302 235h1v5h-1zM303 229h1v6h-1zM304 223h1v6h-1zM305 217h1v6h-1zM306 211h1v6h-1zM307 205h1v6h-1zM308 199h1v6h-1zM309 193h1v6h-1zM310 189h1v4h-1zM311 187h1v2h-1zM312 185h1v2h-1zM313 183h1v2h-1zM314 181h1v2h-1zM315 179h1v2h-1zM316 177h1v2h-1zM317 175h1v2h-1zM318 173h1v2h-1zM319 172h1v1h-1zM320 171h1v1h-1zM321 170h1v1h-1zM322 169h1v1h-1zM325 167h1v1h-1zM326 166h1v1h-1zM327 165h1v1h-1zM464 172h1v1h-1zM465 173h1v2h-1zM466 175h1v1h-1zM467 176h1v1h-1zM468 177h1v1h-1zM469 178h1v1h-1zM470 179h1v2h-1zM471 181h1v1h-1zM472 182h1v1h-1zM473 183h1v1h-1zM474 184h1v1h-1zM475 185h1v1h-1zM478 187h1v1h-1zM479 188h1v1h-1zM480 189h1v1h-1zM481 190h1v1h-1zM535 202h1v1h-1zM536 203h1v3h-1zM537 206h1v2h-1zM538 208h1v3h-1zM539 211h1v3h-1zM540 214h1v3h-1zM541 217h1v3h-1zM542 220h1v2h-1zM543 222h1v3h-1zM544 225h1v2h-1zM545 222h1v3h-1zM546 219h1v3h-1zM547 216h1v3h-1zM548 213h1v3h-1zM549 211h1v2h-1zM550 208h1v3h-1zM551 205h1v3h-1zM552 202h1v3h-1zM553 201h1v1h-1zM574 200h1v1h-1zM577 202h1v1h-1zM580 204h1v1h-1zM581 205h1v1h-1zM584 207h1v1h-1zM585 208h1v1h-1zM588 210h1v1h-1zM589 211h1v1h-1zM598 216h1v1h-1z" fill="#00f"/>
<path d="M85 208h1v1h-1zM84 209h3v1h-3zM83 210h5v1h-5zM82 211h7v1h-7zM83 212h5v1h-5zM84 213h3v1h-3zM85 214h1v1h-1zM94 179h1v1h-1zM93 180h3v1h-3zM92 181h5v1h-5zM91 182h7v1h-7zM92 183h5v1h-5zM93 184h3v1h-3zM94 185h1v1h-1zM103 163h1v1h-1zM102 164h3v1h-3zM101 165h5v1h-5zM100 166h7v1h-7zM101 167h5v1h-5zM102 168h3v1h-3zM103 169h1v1h-1zM112 171h1v1h-1zM111 172h3v1h-3zM110 173h5v1h-5zM109 174h7v1h-7zM110 175h5v1h-5zM111 176h3v1h-3zM112 177h1v1h-1zM121 178h1v1h-1zM120 179h3v1h-3zM119 180h5v1h-5zM118 181h7v1h-7zM119 182h5v1h-5zM120 183h3v1h-3zM121 184h1v1h-1zM130 177h1v1h-1zM129 178h3v1h-3zM128 179h5v1h-5zM127 180h7v1h-7zM128 181h5v1h-5zM129 182h3v1h-3zM130 183h1v1h-1zM139 172h1v1h-1zM138 173h3v1h-3zM137 174h5v1h-5zM136 175h7v1h-7zM137 176h5v1h-5zM138 177h3v1h-3zM139 178h1v1h-1zM148 162h1v1h-1zM147 163h3v1h-3zM146 164h5v1h-5zM145 165h7v1h-7zM146 166h5v1h-5zM147 167h3v1h-3zM148 168h1v1h-1zM157 163h1v1h-1zM156 164h3v1h-3zM155 165h5v1h-5zM154 166h7v1h-7zM155 167h5v1h-5zM156 168h3v1h-3zM157 169h1v1h-1zM166 158h1v1h-1zM165 159h3v1h-3zM164 160h5v1h-5zM163 161h7v1h-7zM164 162h5v1h-5zM165 163h3v1h-3zM166 164h1v1h-1zM175 157h1v1h-1zM174 158h3v1h-3zM173 159h5v1h-5zM172 160h7v1h-7zM173 161h5v1h-5zM174 162h3v1h-3zM175 163h1v1h-1zM184 160h1v1h-1zM183 161h3v1h-3zM182 162h5v1h-5zM181 163h7v1h-7zM182 164h5v1h-5zM183 165h3v1h-3zM184 166h1v1h-1zM193 162h1v1h-1zM192 163h3v1h-3zM191 164h5v1h-5zM190 165h7v1h-7zM191 166h5v1h-5zM192 167h3v1h-3zM193 168h1v1h-1zM202 164h1v1h-1zM201 165h3v1h-3zM200 166h5v1h-5zM199 167h7v1h-7zM200 168h5v1h-5zM201 169h3v1h-3zM202 170h1v1h-1zM211 164h1v1h-1zM210 165h3v1h-3zM209 166h5v1h-5zM208 167h7v1h-7zM209 168h5v1h-5zM210 169h3v1h-3zM211 170h1v1h-1zM220 162h1v1h-1zM219 163h3v1h-3zM218 164h5v1h-5zM217 165h7v1h-7zM218 166h5v1h-5zM219 167h3v1h-3zM220 168h1v1h-1zM229 159h1v1h-1zM228 160h3v1h-3zM227 161h5v1h-5zM226 162h7v1h-7zM227 163h5v1h-5zM228 164h3v1h-3zM229 165h1v1h-1zM238 167h1v1h-1zM237 168h3v1h-3zM236 169h5v1h-5zM235 170h7v1h-7zM236 171h5v1h-5zM237 172h3v1h-3zM238 173h1v1h-1zM247 171h1v1h-1zM246 172h3v1h-3zM245 173h5v1h-5zM244 174h7v1h-7zM245 175h5v1h-5zM246 176h3v1h-3zM247 177h1v1h-1zM256 171h1v1h-1zM255 172h3v1h-3zM254 173h5v1h-5zM253 174h7v1h-7zM254 175h5v1h-5zM255 176h3v1h-3zM256 177h1v1h-1zM265 166h1v1h-1zM264 167h3v1h-3zM263 168h5v1h-5zM262 169h7v1h-7zM263 170h5v1h-5zM264 171h3v1h-3zM265 172h1v1h-1zM274 168h1v1h-1zM273 169h3v1h-3zM272 170h5v1h-5zM271 171h7v1h-7zM272 172h5v1h-5zM273 173h3v1h-3zM274 174h1v1h-1zM283 169h1v1h-1zM282 170h3v1h-3zM281 171h5v1h-5zM280 172h7v1h-7zM281 173h5v1h-5zM282 174h3v1h-3zM283 175h1v1h-1zM292 184h1v1h-1zM291 185h3v1h-3zM290 186h5v1h-5zM289 187h7v1h-7zM290 188h5v1h-5zM291 189h3v1h-3zM292 190h1v1h-1zM301 240h1v1h-1zM300 241h3v1h-3zM299 242h5v1h-5zM298 243h7v1h-7zM299 244h5v1h-5zM300 245h3v1h-3zM301 246h1v1h-1zM310 187h1v1h-1zM309 188h3v1h-3zM308 189h5v1h-5zM307 190h7v1h-7zM308 191h5v1h-5zM309 192h3v1h-3zM310 193h1v1h-1zM319 169h1v1h-1zM318 170h3v1h-3zM317 171h5v1h-5zM316 172h7v1h-7zM317 173h5v1h-5zM318 174h3v1h-3zM319 175h1v1h-1zM328 161h1v1h-1zM327 162h3v1h-3zM326 163h5v1h-5zM325 164h7v1h-7zM326 165h5v1h-5zM327 166h3v1h-3zM328 167h1v1h-1zM337 164h1v1h-1zM336 165h3v1h-3zM335 166h5v1h-5zM334 167h7v1h-7zM335 168h5v1h-5zM336 169h3v1h-3zM337 170h1v1h-1zM346 166h1v1h-1zM345 167h3v1h-3zM344 168h5v1h-5zM343 169h7v1h-7zM344 170h5v1h-5zM345 171h3v1h-3zM346 172h1v1h-1zM355 167h1v1h-1zM354 168h3v1h-3zM353 169h5v1h-5zM352 170h7v1h-7zM353 171h5v1h-5zM354 172h3v1h-3zM355 173h1v1h-1zM364 166h1v1h-1zM363 167h3v1h-3zM362 168h5v1h-5zM361 169h7v1h-7zM362 170h5v1h-5zM363 171h3v1h-3zM364 172h1v1h-1zM373 163h1v1h-1zM372 164h3v1h-3zM371 165h5v1h-5zM370 166h7v1h-7zM371 167h5v1h-5zM372 168h3v1h-3zM373 169h1v1h-1zM382 168h1v1h-1zM381 169h3v1h-3zM380 170h5v1h-5zM379 171h7v1h-7zM380 172h5v1h-5zM381 173h3v1h-3zM382 174h1v1h-1zM391 171h1v1h-1zM390 172h3v1h-3zM389 173h5v1h-5zM388 174h7v1h-7zM389 175h5v1h-5zM390 176h3v1h-3zM391 177h1v1h-1zM400 172h1v1h-1zM399 173h3v1h-3zM398 174h5v1h-5zM397 175h7v1h-7zM398 176h5v1h-5zM399 177h3v1h-3zM400 178h1v1h-1zM409 171h1v1h-1zM408 172h3v1h-3zM407 173h5v1h-5zM406 174h7v1h-7zM407 175h5v1h-5zM408 176h3v1h-3zM409 177h1v1h-1zM418 167h1v1h-1zM417 168h3v1h-3zM416 169h5v1h-5zM415 170h7v1h-7zM416 171h5v1h-5zM417 172h3v1h-3zM418 173h1v1h-1zM427 167h1v1h-1zM426 168h3v1h-3zM425 169h5v1h-5zM424 170h7v1h-7zM425 171h5v1h-5zM426 172h3v1h-3zM427 173h1v1h-1zM436 170h1v1h-1zM435 171h3v1h-3zM434 172h5v1h-5zM433 173h7v1h-7zM434 174h5v1h-5zM435 175h3v1h-3zM436 176h1v1h-1zM445 170h1v1h-1zM444 171h3v1h-3zM443 172h5v1h-5zM442 173h7v1h-7zM443 174h5v1h-5zM444 175h3v1h-3zM445 176h1v1h-1zM454 169h1v1h-1zM453 170h3v1h-3zM452 171h5v1h-5zM451 172h7v1h-7zM452 173h5v1h-5zM453 174h3v1h-3zM454 175h1v1h-1zM463 168h1v1h-1zM462 169h3v1h-3zM461 170h5v1h-5zM460 171h7v1h-7zM461 172h5v1h-5zM462 173h3v1h-3zM463 174h1v1h-1zM472 179h1v1h-1zM471 180h3v1h-3zM470 181h5v1h-5zM469 182h7v1h-7zM470 183h5v1h-5zM471 184h3v1h-3zM472 185h1v1h-1zM481 187h1v1h-1zM480 188h3v1h-3zM479 189h5v1h-5zM478 190h7v1h-7zM479 191h5v1h-5zM480 192h3v1h-3zM481 193h1v1h-1zM490 192h1v1h-1zM489 193h3v1h-3zM488 194h5v1h-5zM487 195h7v1h-7zM488 196h5v1h-5zM489 197h3v1h-3zM490 198h1v1h-1zM499 195h1v1h-1zM498 196h3v1h-3zM497 197h5v1h-5zM496 198h7v1h-7zM497 199h5v1h-5zM498 200h3v1h-3zM499 201h1v1h-1zM508 196h1v1h-1zM507 197h3v1h-3zM506 198h5v1h-5zM505 199h7v1h-7zM506 200h5v1h-5zM507 201h3v1h-3zM508 202h1v1h-1zM517 196h1v1h-1zM516 197h3v1h-3zM515 198h5v1h-5zM514 199h7v1h-7zM515 200h5v1h-5zM516 201h3v1h-3zM517 202h1v1h-1zM526 194h1v1h-1zM525 195h3v1h-3zM524 196h5v1h-5zM523 197h7v1h-7zM524 198h5v1h-5zM525 199h3v1h-3zM526 200h1v1h-1zM535 198h1v1h-1zM534 199h3v1h-3zM533 200h5v1h-5zM532 201h7v1h-7zM533 202h5v1h-5zM534 203h3v1h-3zM535 204h1v1h-1zM544 223h1v1h-1zM543 224h3v1h-3zM542 225h5v1h-5zM541 226h7v1h-7zM542 227h5v1h-5zM543 228h3v1h-3zM544 229h1v1h-1zM553 197h1v1h-1zM552 198h3v1h-3zM551 199h5v1h-5zM550 200h7v1h-7zM551 201h5v1h-5zM552 202h3v1h-3zM553 203h1v1h-1zM562 193h1v1h-1zM561 194h3v1h-3zM560 195h5v1h-5zM559 196h7v1h-7zM560 197h5v1h-5zM561 198h3v1h-3zM562 199h1v1h-1zM571 195h1v1h-1zM570 196h3v1h-3zM569 197h5v1h-5zM568 198h7v1h-7zM569 199h5v1h-5zM570 200h3v1h-3zM571 201h1v1h-1zM580 201h1v1h-1zM579 202h3v1h-3zM578 203h5v1h-5zM577 204h7v1h-7zM578 205h5v1h-5zM579 206h3v1h-3zM580 207h1v1h-1zM589 208h1v1h-1zM588 209h3v1h-3zM587 210h5v1h-5zM586 211h7v1h-7zM587 212h5v1h-5zM588 213h3v1h-3zM589 214h1v1h-1zM598 213h1v1h-1zM597 214h3v1h-3zM596 215h5v1h-5zM595 216h7v1h-7zM596 217h5v1h-5zM597 218h3v1h-3zM598 219h1v1h-1zM607 218h1v1h-1zM606 219h3v1h-3zM605 220h5v1h-5zM604 221h7v1h-7zM605 222h5v1h-5zM606 223h3v1h-3zM607 224h1v1h-1zM616 221h1v1h-1zM615 222h3v1h-3zM614 223h5v1h-5zM613 224h7v1h-7zM614 225h5v1h-5zM615 226h3v1h-3zM616 227h1v1h-1zM625 223h1v1h-1zM624 224h3v1h-3zM623 225h5v1h-5zM622 226h7v1h-7zM623 227h5v1h-5zM624 228h3v1h-3zM625 229h1v1h-1zM634 224h1v1h-1zM633 225h3v1h-3zM632 226h5v1h-5zM631 227h7v1h-7zM632 228h5v1h-5zM633 229h3v1h-3zM634 230h1v1h-1zM643 226h1v1h-1zM642 227h3v1h-3zM641 228h5v1h-5zM640 229h7v1h-7zM641 230h5v1h-5zM642 231h3v1h-3zM643 232h1v1h-1zM652 228h1v1h-1zM651 229h3v1h-3zM650 230h5v1h-5zM649 231h7v1h-7zM650 232h5v1h-5zM651 233h3v1h-3zM652 234h1v1h-1zM661 231h1v1h-1zM660 232h3v1h-3zM659 233h5v1h-5zM658 234h7v1h-7zM659 235h5v1h-5zM660 236h3v1h-3zM661 237h1v1h-1z" fill="#000"/><path d="M85 209h1v1h-1zM84 210h3v1h-3zM83 211h5v1h-5zM84 212h3v1h-3zM85 213h1v1h-1zM94 180h1v1h-1zM93 181h3v1h-3zM92 182h5v1h-5zM93 183h3v1h-3zM94 184h1v1h-1zM103 164h1v1h-1zM102 165h3v1h-3zM101 166h5v1h-5zM102 167h3v1h-3zM103 168h1v1h-1zM112 172h1v1h-1zM111 173h3v1h-3zM110 174h5v1h-5zM111 175h3v1h-3zM112 176h1v1h-1zM121 179h1v1h-1zM120 180h3v1h-3zM119 181h5v1h-5zM120 182h3v1h-3zM121 183h1v1h-1zM130 178h1v1h-1zM129 179h3v1h-3zM128 180h5v1h-5zM129 181h3v1h-3zM130 182h1v1h-1zM139 173h1v1h-1zM138 174h3v1h-3zM137 175h5v1h-5zM138 176h3v1h-3zM139 177h1v1h-1zM148 163h1v1h-1zM147 164h3v1h-3zM146 165h5v1h-5zM147 166h3v1h-3zM148 167h1v1h-1zM157 164h1v1h-1zM156 165h3v1h-3zM155 166h5v1h-5zM156 167h3v1h-3zM157 168h1v1h-1zM166 159h1v1h-1zM165 160h3v1h-3zM164 161h5v1h-5zM165 162h3v1h-3zM166 163h1v1h-1zM175 158h1v1h-1zM174 159h3v1h-3zM173 160h5v1h-5zM174 161h3v1h-3zM175 162h1v1h-1zM184 161h1v1h-1zM183 162h3v1h-3zM182 163h5v1h-5zM183 164h3v1h-3zM184 165h1v1h-1zM193 163h1v1h-1zM192 164h3v1h-3zM191 165h5v1h-5zM192 166h3v1h-3zM193 167h1v1h-1zM202 165h1v1h-1zM201 166h3v1h-3zM200 167h5v1h-5zM201 168h3v1h-3zM202 169h1v1h-1zM211 165h1v1h-1zM210 166h3v1h-3zM209 167h5v1h-5zM210 168h3v1h-3zM211 169h1v1h-1zM220 163h1v1h-1zM219 164h3v1h-3zM218 165h5v1h-5zM219 166h3v1h-3zM220 167h1v1h-1zM229 160h1v1h-1zM228 161h3v1h-3zM227 162h5v1h-5zM228 163h3v1h-3zM229 164h1v1h-1zM238 168h1v1h-1zM237 169h3v1h-3zM236 170h5v1h-5zM237 171h3v1h-3zM238 172h1v1h-1zM247 172h1v1h-1zM246 173h3v1h-3zM245 174h5v1h-5zM246 175h3v1h-3zM247 176h1v1h-1zM256 172h1v1h-1zM255 173h3v1h-3zM254 174h5v1h-5zM255 175h3v1h-3zM256 176h1v1h-1zM265 167h1v1h-1zM264 168h3v1h-3zM263 169h5v1h-5zM264 170h3v1h-3zM265 171h1v1h-1zM274 169h1v1h-1zM273 170h3v1h-3zM272 171h5v1h-5zM273 172h3v1h-3zM274 173h1v1h-1zM283 170h1v1h-1zM282 171h3v1h-3zM281 172h5v1h-5zM282 173h3v1h-3zM283 174h1v1h-1zM292 185h1v1h-1zM291 186h3v1h-3zM290 187h5v1h-5zM291 188h3v1h-3zM292 189h1v1h-1zM301 241h1v1h-1zM300 242h3v1h-3zM299 243h5v1h-5zM300 244h3v1h-3zM301 245h1v1h-1zM310 188h1v1h-1zM309 189h3v1h-3zM308 190h5v1h-5zM309 191h3v1h-3zM310 192h1v1h-1zM319 170h1v1h-1zM318 171h3v1h-3zM317 172h5v1h-5zM318 173h3v1h-3zM319 174h1v1h-1zM328 162h1v1h-1zM327 163h3v1h-3zM326 164h5v1h-5zM327 165h3v1h-3zM328 166h1v1h-1zM337 165h1v1h-1zM336 166h3v1h-3zM335 167h5v1h-5zM336 168h3v1h-3zM337 169h1v1h-1zM346 167h1v1h-1zM345 168h3v1h-3zM344 169h5v1h-5zM345 170h3v1h-3zM346 171h1v1h-1zM355 168h1v1h-1zM354 169h3v1h-3zM353 170h5v1h-5zM354 171h3v1h-3zM355 172h1v1h-1zM364 167h1v1h-1zM363 168h3v1h-3zM362 169h5v1h-5zM363 170h3v1h-3zM364 171h1v1h-1zM373 164h1v1h-1zM372 165h3v1h-3zM371 166h5v1h-5zM372 167h3v1h-3zM373 168h1v1h-1zM382 169h1v1h-1zM381 170h3v1h-3zM380 171h5v1h-5zM381 172h3v1h-3zM382 173h1v1h-1zM391 172h1v1h-1zM390 173h3v1h-3zM389 174h5v1h-5zM390 175h3v1h-3zM391 176h1v1h-1zM400 173h1v1h-1zM399 174h3v1h-3zM398 175h5v1h-5zM399 176h3v1h-3zM400 177h1v1h-1zM409 172h1v1h-1zM408 173h3v1h-3zM407 174h5v1h-5zM408 175h3v1h-3zM409 176h1v1h-1zM418 168h1v1h-1zM417 169h3v1h-3zM416 170h5v1h-5zM417 171h3v1h-3zM418 172h1v1h-1zM427 168h1v1h-1zM426 169h3v1h-3zM425 170h5v1h-5zM426 171h3v1h-3zM427 172h1v1h-1zM436 171h1v1h-1zM435 172h3v1h-3zM434 173h5v1h-5zM435 174h3v1h-3zM436 175h1v1h-1zM445 171h1v1h-1zM444 172h3v1h-3zM443 173h5v1h-5zM444 174h3v1h-3zM445 175h1v1h-1zM454 170h1v1h-1zM453 171h3v1h-3zM452 172h5v1h-5zM453 173h3v1h-3zM454 174h1v1h-1zM463 169h1v1h-1zM462 170h3v1h-3zM461 171h5v1h-5zM462 172h3v1h-3zM463 173h1v1h-1zM472 180h1v1h-1zM471 181h3v1h-3zM470 182h5v1h-5zM471 183h3v1h-3zM472 184h1v1h-1zM481 188h1v1h-1zM480 189h3v1h-3zM479 190h5v1h-5zM480 191h3v1h-3zM481 192h1v1h-1zM490 193h1v1h-1zM489 194h3v1h-3zM488 195h5v1h-5zM489 196h3v1h-3zM490 197h1v1h-1zM499 196h1v1h-1zM498 197h3v1h-3zM497 198h5v1h-5zM498 199h3v1h-3zM499 200h1v1h-1zM508 197h1v1h-1zM507 198h3v1h-3zM506 199h5v1h-5zM507 200h3v1h-3zM508 201h1v1h-1zM517 197h1v1h-1zM516 198h3v1h-3zM515 199h5v1h-5zM516 200h3v1h-3zM517 201h1v1h-1zM526 195h1v1h-1zM525 196h3v1h-3zM524 197h5v1h-5zM525 198h3v1h-3zM526 199h1v1h-1zM535 199h1v1h-1zM534 200h3v1h-3zM533 201h5v1h-5zM534 202h3v1h-3zM535 203h1v1h-1zM544 224h1v1h-1zM543 225h3v1h-3zM542 226h5v1h-5zM543 227h3v1h-3zM544 228h1v1h-1zM553 198h1v1h-1zM552 199h3v1h-3zM551 200h5v1h-5zM552 201h3v1h-3zM553 202h1v1h-1zM562 194h1v1h-1zM561 195h3v1h-3zM560 196h5v1h-5zM561 197h3v1h-3zM562 198h1v1h-1zM571 196h1v1h-1zM570 197h3v1h-3zM569 198h5v1h-5zM570 199h3v1h-3zM571 200h1v1h-1zM580 202h1v1h-1zM579 203h3v1h-3zM578 204h5v1h-5zM579 205h3v1h-3zM580 206h1v1h-1zM589 209h1v1h-1zM588 210h3v1h-3zM587 211h5v1h-5zM588 212h3v1h-3zM589 213h1v1h-1zM598 214h1v1h-1zM597 215h3v1h-3zM596 216h5v1h-5zM597 217h3v1h-3zM598 218h1v1h-1zM607 219h1v1h-1zM606 220h3v1h-3zM605 221h5v1h-5zM606 222h3v1h-3zM607 223h1v1h-1zM616 222h1v1h-1zM615 223h3v1h-3zM614 224h5v1h-5zM615 225h3v1h-3zM616 226h1v1h-1zM625 224h1v1h-1zM624 225h3v1h-3zM623 226h5v1h-5zM624 227h3v1h-3zM625 228h1v1h-1zM634 225h1v1h-1zM633 226h3v1h-3zM632 227h5v1h-5zM633 228h3v1h-3zM634 229h1v1h-1zM643 227h1v1h-1zM642 228h3v1h-3zM641 229h5v1h-5zM642 230h3v1h-3zM643 231h1v1h-1zM652 229h1v1h-1zM651 230h3v1h-3zM650 231h5v1h-5zM651 232h3v1h-3zM652 233h1v1h-1zM661 232h1v1h-1zM660 233h3v1h-3zM659 234h5v1h-5zM660 235h3v1h-3zM661 236h1v1h-1z" fill="#00f"/>
<rect x="28.5" y="145.5" width="22" height="97" fill="#fff" stroke="#000" stroke-width="1"/>
<rect x="692.5" y="127.5" width="37" height="130" fill="#fff" stroke="#000" stroke-width="1"/>
<rect x="160.5" y="373.5" width="422" height="21" fill="#fff" stroke="#000" stroke-width="1"/>
<path d="M164 383h27v1h-27z" fill="#f00"/><rect x="174" y="380" width="6" height="6" fill="#000"/><rect x="175" y="381" width="4" height="4" fill="#f00"/>
<path d="M313 383h27v1h-27z" fill="#00f"/><path d="M326 380h1v1h-1zM326 381h2v1h-2zM325 382h3v1h-3zM325 383h4v1h-4zM324 384h5v1h-5zM324 385h6v1h-6zM323 386h7v1h-7z" fill="#000"/><path d="M326 382h1v1h-1zM326 383h2v1h-2zM325 384h3v1h-3zM325 385h4v1h-4z" fill="#00f"/>
<path d="M445 383h27v1h-27z" fill="#00f"/><path d="M458 380h1v1h-1zM457 381h3v1h-3zM456 382h5v1h-5zM455 383h7v1h-7zM456 384h5v1h-5zM457 385h3v1h-3zM458 386h1v1h-1z" fill="#000"/><path d="M458 381h1v1h-1zM457 382h3v1h-3zM456 383h5v1h-5zM457 384h3v1h-3zM458 385h1v1h-1z" fill="#00f"/>
</g>
<g filter="url(#tb)">
<text class="t" transform="translate(180.78 36) scale(0.9740 1)">Model </text>
<text class="t" transform="translate(223.54 36) scale(0.9231 1)">9556143X: </text>
<text class="t" transform="translate(293.98 36) scale(0.9204 1)">Hybrid </text>
<text class="t" transform="translate(339.33 36) scale(0.9222 1)">LPDA: </text>
<text class="t" transform="translate(385.31 36) scale(0.8786 1)">21 </text>
<text class="t" transform="translate(404.34 36) scale(0.9075 1)">LPDA </text>
<text class="t" transform="translate(443.67 36) scale(0.9320 1)">Elements </text>
<text class="t" transform="translate(505.56 36) scale(0.8571 1)">+ </text>
<text class="t" transform="translate(517.07 36) scale(0.9276 1)">Director </text>
<text class="t" transform="translate(241.04 52) scale(0.9561 1)">Free-Space </text>
<text class="t" transform="translate(319.01 52) scale(0.9384 1)">Gain </text>
<text class="t" transform="translate(353.06 52) scale(0.9101 1)">and </text>
<text class="t" transform="translate(380.84 52) scale(0.9063 1)">Front-to-Back </text>
<text class="t" transform="translate(468.34 52) scale(0.9091 1)">Ratios </text>
<text class="t" transform="translate(679.76 386) scale(0.9945 1)">Fig. </text>
<text class="t" transform="translate(707.53 386) scale(0.9333 1)">2 </text>
</g>
<g filter="url(#th)">
<text class="s" x="76.7" y="86" text-anchor="end">9.2</text>
<text class="s" x="76.7" y="111" text-anchor="end">9.1</text>
<text class="s" x="76.7" y="135" text-anchor="end">9</text>
<text class="s" x="76.7" y="160" text-anchor="end">8.9</text>
<text class="s" x="76.7" y="184" text-anchor="end">8.8</text>
<text class="s" x="76.7" y="209" text-anchor="end">8.7</text>
<text class="s" x="76.7" y="233" text-anchor="end">8.6</text>
<text class="s" x="76.7" y="258" text-anchor="end">8.5</text>
<text class="s" x="76.7" y="282" text-anchor="end">8.4</text>
<text class="s" x="76.7" y="307" text-anchor="end">8.3</text>
<text class="s" x="668.6" y="86">60</text>
<text class="s" x="668.6" y="123">50</text>
<text class="s" x="668.6" y="160">40</text>
<text class="s" x="668.6" y="197">30</text>
<text class="s" x="668.6" y="233">20</text>
<text class="s" x="668.6" y="270">10</text>
<text class="s" x="668.6" y="307">0</text>
<text class="s" x="84.5" y="323" text-anchor="middle">14</text>
<text class="s" x="156.5" y="323" text-anchor="middle">16</text>
<text class="s" x="228.5" y="323" text-anchor="middle">18</text>
<text class="s" x="300.5" y="323" text-anchor="middle">20</text>
<text class="s" x="372.5" y="323" text-anchor="middle">22</text>
<text class="s" x="444.5" y="323" text-anchor="middle">24</text>
<text class="s" x="516.5" y="323" text-anchor="middle">26</text>
<text class="s" x="588.5" y="323" text-anchor="middle">28</text>
<text class="s" x="660.5" y="323" text-anchor="middle">30</text>
<text class="s" transform="translate(333.89 342) scale(1.0406 1)">Frequency, </text>
<text class="s" transform="translate(391.96 342) scale(0.9609 1)">MHz </text>
<text class="s" transform="translate(193.18 387) scale(1.0555 1)">Forward </text>
<text class="s" transform="translate(238.27 387) scale(0.9659 1)">Gain </text>
<text class="s" transform="translate(342.06 387) scale(0.9576 1)">Front </text>
<text class="s" transform="translate(371.40 387) scale(0.7667 1)">/ </text>
<text class="s" transform="translate(376.14 387) scale(0.9787 1)">Back </text>
<text class="s" transform="translate(403.09 387) scale(0.9313 1)">Ratio </text>
<text class="s" transform="translate(474.17 387) scale(0.9495 1)">Front </text>
<text class="s" transform="translate(503.20 387) scale(0.8333 1)">/ </text>
<text class="s" transform="translate(508.27 387) scale(0.9552 1)">Sidelobe </text>
<text class="s" transform="translate(551.66 387) scale(0.9641 1)">Ratio </text>
<text class="s" transform="translate(42 240.03) rotate(-90) scale(1.0632 1)" style="fill:#f00">Forward </text>
<text class="s" transform="translate(42 194.69) rotate(-90) scale(0.9729 1)" style="fill:#f00">Gain, </text>
<text class="s" transform="translate(42 163.69) rotate(-90) scale(0.9709 1)" style="fill:#f00">dBi </text>
<text class="s" transform="translate(706 245.63) rotate(-90) scale(0.9495 1)" style="fill:#00f">Front </text>
<text class="s" transform="translate(706 217.50) rotate(-90) scale(0.8333 1)" style="fill:#00f">/ </text>
<text class="s" transform="translate(706 211.55) rotate(-90) scale(0.9702 1)" style="fill:#00f">Back </text>
<text class="s" transform="translate(706 184.65) rotate(-90) scale(0.9749 1)" style="fill:#00f">Ratio, </text>
<text class="s" transform="translate(706 151.16) rotate(-90) scale(0.9131 1)" style="fill:#00f">dB </text>
<text class="s" transform="translate(721 254.73) rotate(-90) scale(0.9535 1)" style="fill:#00f">Front </text>
<text class="s" transform="translate(721 226.30) rotate(-90) scale(0.8333 1)" style="fill:#00f">/ </text>
<text class="s" transform="translate(721 219.87) rotate(-90) scale(0.9457 1)" style="fill:#00f">Sidelobe </text>
<text class="s" transform="translate(721 176.49) rotate(-90) scale(0.9544 1)" style="fill:#00f">Ratio, </text>
<text class="s" transform="translate(721 143.06) rotate(-90) scale(0.9131 1)" style="fill:#00f">dB </text>
</g>
</svg>
</body>
</html>
